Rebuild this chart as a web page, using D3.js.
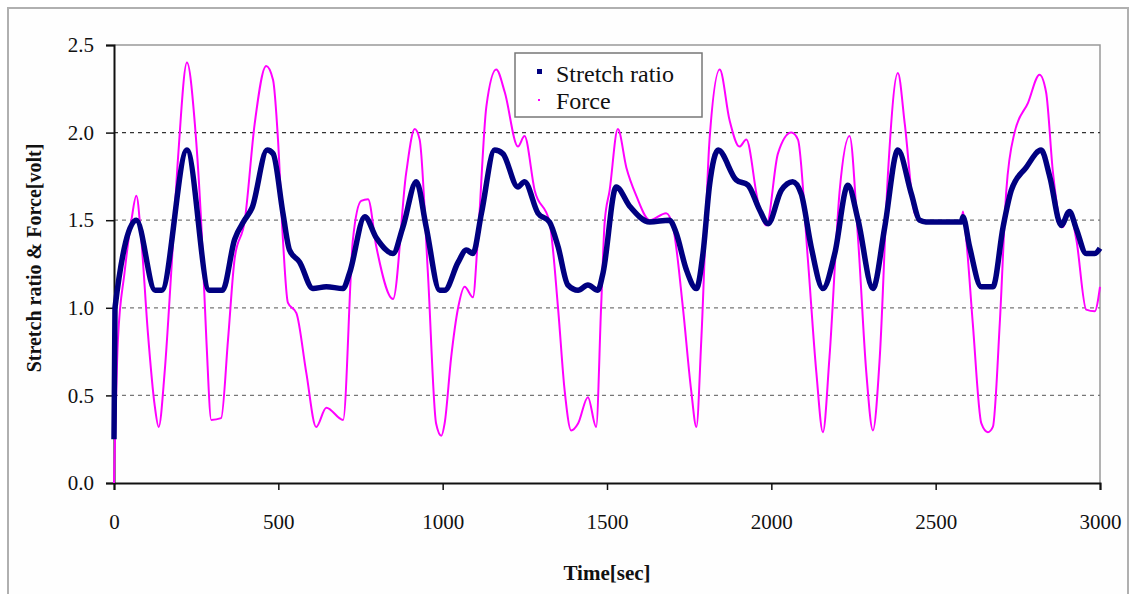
<!DOCTYPE html>
<html>
<head>
<script src="https://cdn.jsdelivr.net/npm/d3@7"></script>
<style>
body { margin: 0; background: #fff; }
svg text { font-family: 'Liberation Serif', 'Times New Roman', serif !important; }
.grid line { stroke-width: 1.3; stroke-dasharray: 4,4; }
.stretch { fill: none; stroke: #000080; stroke-width: 5.5; stroke-linejoin: round; }
.force { fill: none; stroke: #ff00ff; stroke-width: 2; stroke-linejoin: round; }
</style>
</head>
<body>
<svg id="chart" width="1131" height="594"></svg>
<script>
// values: time [sec] and value
var stretchT = [0, 3, 68, 125, 145, 222, 290, 330, 367, 397, 420, 466, 484, 514, 534, 565, 605, 646, 697, 717, 763, 798, 849, 879, 920, 950, 991, 1006, 1047, 1072, 1092, 1118, 1158, 1183, 1229, 1249, 1290, 1325, 1351, 1381, 1412, 1442, 1472, 1488, 1528, 1569, 1630, 1690, 1710, 1741, 1772, 1792, 1812, 1838, 1893, 1929, 1964, 1990, 2030, 2065, 2091, 2121, 2157, 2193, 2233, 2264, 2309, 2345, 2385, 2426, 2451, 2470, 2578, 2583, 2603, 2639, 2674, 2705, 2730, 2775, 2821, 2847, 2882, 2907, 2928, 2958, 2984, 3000];
var stretchV = [0.25, 1.0, 1.5, 1.1, 1.1, 1.9, 1.1, 1.1, 1.39, 1.5, 1.57, 1.9, 1.88, 1.54, 1.33, 1.26, 1.11, 1.12, 1.11, 1.2, 1.52, 1.4, 1.31, 1.46, 1.72, 1.46, 1.1, 1.1, 1.26, 1.33, 1.31, 1.54, 1.9, 1.88, 1.69, 1.72, 1.54, 1.49, 1.35, 1.13, 1.1, 1.13, 1.1, 1.2, 1.69, 1.58, 1.49, 1.5, 1.43, 1.22, 1.11, 1.31, 1.7, 1.9, 1.73, 1.7, 1.56, 1.48, 1.67, 1.72, 1.65, 1.35, 1.11, 1.31, 1.7, 1.5, 1.11, 1.46, 1.9, 1.65, 1.5, 1.49, 1.49, 1.52, 1.35, 1.12, 1.12, 1.46, 1.67, 1.8, 1.9, 1.75, 1.47, 1.55, 1.45, 1.31, 1.31, 1.34];

var forceT = [0, 12, 32, 53, 68, 83, 103, 124, 136, 154, 174, 195, 222, 246, 266, 281, 296, 326, 347, 367, 398, 428, 463, 484, 499, 514, 529, 555, 585, 615, 646, 697, 727, 752, 773, 798, 849, 889, 915, 930, 955, 980, 996, 1006, 1026, 1047, 1067, 1092, 1107, 1133, 1163, 1189, 1229, 1249, 1280, 1325, 1351, 1371, 1391, 1412, 1442, 1467, 1482, 1493, 1508, 1533, 1559, 1589, 1630, 1680, 1701, 1731, 1756, 1772, 1787, 1812, 1843, 1873, 1903, 1924, 1959, 1985, 2020, 2061, 2081, 2111, 2137, 2157, 2177, 2208, 2238, 2264, 2289, 2309, 2330, 2355, 2385, 2406, 2436, 2456, 2470, 2578, 2583, 2593, 2613, 2639, 2659, 2674, 2695, 2715, 2740, 2781, 2816, 2836, 2857, 2887, 2907, 2928, 2958, 2984, 3000];
var forceV = [0.0, 0.82, 1.2, 1.5, 1.64, 1.39, 0.86, 0.44, 0.32, 0.63, 1.2, 1.86, 2.4, 2.05, 1.46, 0.82, 0.36, 0.37, 0.82, 1.28, 1.5, 2.05, 2.38, 2.3, 1.96, 1.39, 1.03, 0.97, 0.63, 0.32, 0.43, 0.36, 1.39, 1.61, 1.62, 1.35, 1.05, 1.77, 2.02, 1.96, 1.2, 0.34, 0.27, 0.34, 0.72, 1.0, 1.12, 1.06, 1.39, 2.15, 2.36, 2.23, 1.92, 1.98, 1.67, 1.49, 1.0, 0.53, 0.3, 0.34, 0.49, 0.32, 1.0, 1.49, 1.67, 2.02, 1.8, 1.64, 1.5, 1.54, 1.46, 1.0, 0.53, 0.32, 0.82, 1.96, 2.36, 2.07, 1.92, 1.96, 1.61, 1.47, 1.88, 2.0, 1.96, 1.28, 0.63, 0.29, 0.72, 1.67, 1.98, 1.39, 0.63, 0.3, 0.72, 1.77, 2.34, 2.05, 1.54, 1.49, 1.49, 1.49, 1.55, 1.39, 0.91, 0.34, 0.29, 0.32, 0.91, 1.67, 2.0, 2.17, 2.33, 2.23, 1.77, 1.46, 1.55, 1.39, 0.99, 0.98, 1.12];

var xTicks = [0, 500, 1000, 1500, 2000, 2500, 3000];
var yTicks = [0, 0.5, 1.0, 1.5, 2.0, 2.5];
var seriesNames = ["Stretch ratio", "Force"];

var serif = "'Liberation Serif', 'Times New Roman', serif";

var svg = d3.select("#chart");

var margin = {left: 114, right: 1100, top: 45, bottom: 483};

var x = d3.scaleLinear().domain([0, 3000]).range([margin.left, margin.right]);
var y = d3.scaleLinear().domain([0, 2.5]).range([margin.bottom, margin.top]);

// outer frame
svg.append("rect")
    .attr("x", 8).attr("y", 8)
    .attr("width", 1120).attr("height", 600)
    .attr("fill", "#fefefe")
    .attr("stroke", "#b0b0b0")
    .attr("stroke-width", 2);

// plot area border (top, right)
svg.append("path")
    .attr("d", "M" + x(0) + "," + y(2.5) + "H" + x(3000) + "V" + y(0))
    .attr("fill", "none")
    .attr("stroke", "#999")
    .attr("stroke-width", 1.5);

// gridlines
svg.append("g")
    .attr("class", "grid")
    .selectAll("line")
    .data(yTicks.filter(function(d) { return d > 0 && d < 2.5; }))
    .enter().append("line")
    .attr("x1", x(0)).attr("x2", x(3000))
    .attr("y1", function(d) { return y(d); })
    .attr("y2", function(d) { return y(d); })
    .style("stroke", function(d) { return d == 2.0 ? "#333" : "#777"; });

// axes
var yAxis = svg.append("g")
    .attr("transform", "translate(" + x(0) + ",0)")
    .call(d3.axisLeft(y).tickValues(yTicks).tickFormat(d3.format(".1f")).tickSize(8).tickPadding(12));

var xAxis = svg.append("g")
    .attr("transform", "translate(0," + y(0) + ")")
    .call(d3.axisBottom(x).tickValues(xTicks).tickFormat(d3.format("d")).tickSize(7).tickPadding(24));

[yAxis, xAxis].forEach(function(a) {
    a.attr("font-family", serif).attr("font-size", 21);
    a.select(".domain").attr("stroke", "#111").attr("stroke-width", 2);
    a.selectAll(".tick line").attr("stroke", "#111").attr("stroke-width", 1.5);
    a.selectAll("text").attr("fill", "#111");
});

// series
var line = d3.line()
    .x(function(d) { return x(d[0]); })
    .y(function(d) { return y(d[1]); })
    .curve(d3.curveMonotoneX);

svg.append("path")
    .datum(d3.zip(forceT, forceV))
    .attr("class", "force")
    .attr("d", line);

svg.append("path")
    .datum(d3.zip(stretchT, stretchV))
    .attr("class", "stretch")
    .attr("d", line);

// axis titles
svg.append("text")
    .attr("x", 607).attr("y", 580)
    .attr("text-anchor", "middle")
    .attr("font-size", 21)
    .attr("font-weight", "bold")
    .attr("fill", "#111")
    .text("Time[sec]");

svg.append("text")
    .attr("transform", "translate(41,258) rotate(-90)")
    .attr("text-anchor", "middle")
    .attr("font-size", 20)
    .attr("font-weight", "bold")
    .attr("fill", "#111")
    .text("Stretch ratio & Force[volt]");

// legend
var legend = svg.append("g").attr("transform", "translate(515,53)");
legend.append("rect")
    .attr("width", 187).attr("height", 64)
    .attr("fill", "#fff")
    .attr("stroke", "#777")
    .attr("stroke-width", 1.5);

legend.append("rect")
    .attr("x", 22).attr("y", 16).attr("width", 5).attr("height", 5)
    .attr("fill", "#000080");
legend.append("rect")
    .attr("x", 23).attr("y", 46).attr("width", 2).attr("height", 2)
    .attr("fill", "#ff00ff");

legend.selectAll("text.lab")
    .data(seriesNames)
    .enter().append("text")
    .attr("class", "lab")
    .attr("x", 41)
    .attr("y", function(d, i) { return 29 + i * 27; })
    .attr("font-size", 24)
    .attr("fill", "#111")
    .text(function(d) { return d; });
</script>
</body>
</html>
